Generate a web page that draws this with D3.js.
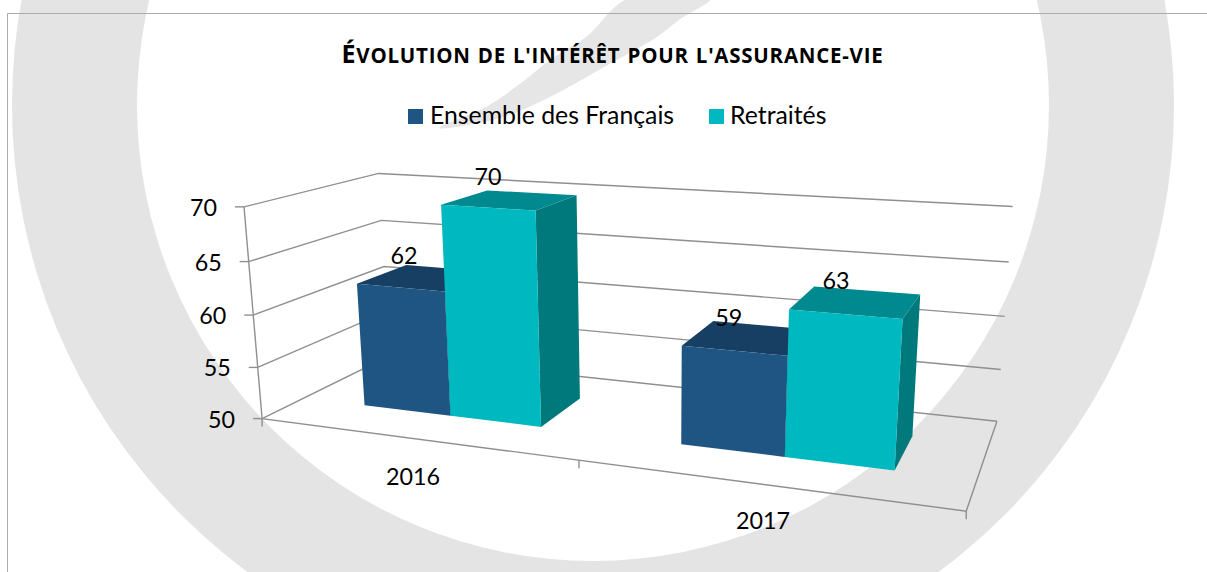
<!DOCTYPE html>
<html lang="fr"><head><meta charset="utf-8">
<script src="https://cdn.jsdelivr.net/npm/d3@7/dist/d3.min.js"></script>
<style>html,body{margin:0;padding:0;background:#fff;overflow:hidden}svg{display:block}text{font-family:Lato,"Open Sans",sans-serif;fill:#000}</style>
</head><body><svg id="c" width="1207" height="572"></svg>
<script>
const categories = ["2016", "2017"];
const seriesNames = ["Ensemble des Français", "Retraités"];
const seriesValues = [[62, 59], [70, 63]];
const yTicks = [50, 55, 60, 65, 70];
const titleInitial = "É";
const titleRest = "VOLUTION DE L'INTÉRÊT POUR L'ASSURANCE-VIE";
const seriesFront = ["#1F5582", "#00B8BF"];
const seriesTop = ["#173F63", "#008A8F"];
const seriesSide = ["#123452", "#00797D"];

// camera calibration of the 3D box: [u, w, value, screenX, screenY]
const calibration = [
  [0,0,50,261,418],[0,0,55,258,367],[0,0,60,254,315],[0,0,65,249,261],[0,0,70,244,207],
  [0,1,70,378,173],[0,1,65,382,221],[0,1,60,383,267],[0,1,50,390,356],
  [1,1,70,1013,207],[1,1,65,1009,262],[1,1,60,1004,316],[1,1,55,1001,369],[1,1,50,997,421],
  [1,0,50,966,511],[0.5,0,50,579,462]
];
const uScale = d3.scaleLinear().domain([0,1]).range([0,1]);
const vScale = d3.scaleLinear().domain([50,70]).range([0,1]);
const band = d3.scaleBand().domain(categories).range([0.001,1.002]).paddingInner(0.42).paddingOuter(0.21);
const inner = d3.scaleBand().domain(seriesNames).range([0,band.bandwidth()]);
const barDepth = [0.30, 0.70];

function solve(A,b){
  const n=b.length,M=A.map((r,i)=>[...r,b[i]]);
  for(let i=0;i<n;i++){
    let p=i;for(let r=i+1;r<n;r++)if(Math.abs(M[r][i])>Math.abs(M[p][i]))p=r;
    [M[i],M[p]]=[M[p],M[i]];
    for(let r=0;r<n;r++){if(r===i)continue;const f=M[r][i]/M[i][i];for(let c=i;c<=n;c++)M[r][c]-=f*M[i][c];}
  }
  return M.map((r,i)=>r[n]/r[i]);
}
const rows=[],rhs=[];
calibration.forEach(([u,w,v,x,y])=>{
  const t=vScale(v);
  rows.push([u,w,t,1,0,0,0,0,-x*u,-x*w,-x*t]);rhs.push(x);
  rows.push([0,0,0,0,u,w,t,1,-y*u,-y*w,-y*t]);rhs.push(y);
});
const AtA=d3.range(11).map(i=>d3.range(11).map(j=>d3.sum(rows,r=>r[i]*r[j])));
const Atb=d3.range(11).map(i=>d3.sum(rows,(r,k)=>r[i]*rhs[k]));
const m=solve(AtA,Atb);
function P(u,w,v){
  const t=vScale(v),d=m[8]*u+m[9]*w+m[10]*t+1;
  return [(m[0]*u+m[1]*w+m[2]*t+m[3])/d,(m[4]*u+m[5]*w+m[6]*t+m[7])/d];
}
const svg=d3.select("#c");
const line=d3.line();
const GREY="#8f8f8f";
const LABEL="23.3px", LEGEND="24.8px";

// watermark
const g0=svg.append("g");
const ring=d3.arc().innerRadius(456).outerRadius(581).startAngle(0).endAngle(2*Math.PI);
g0.append("path").attr("d",ring()).attr("transform","translate(593,105)").attr("fill","#e4e4e4");
const swooshEdge=[[629,-2],[586,37],[550,60],[521,83],[486,107],[439,128],[500,118],[550,97],[604,67],[657,37],[679,20],[711,-2]];
g0.append("path").attr("class","swoosh").attr("fill","#e6e6e6").attr("stroke","none")
  .attr("d",d3.line().curve(d3.curveCatmullRomClosed.alpha(0.5))(swooshEdge));
// chart frame
g0.append("path").attr("d","M7.5,572V13.5H1207").attr("fill","none").attr("stroke","#ababab").attr("stroke-width",1);

// title & legend
const title=svg.append("text").attr("x",612.5).attr("y",63).attr("text-anchor","middle")
  .style("font-family","'Open Sans',sans-serif").style("font-weight","700").style("letter-spacing","0.75px").style("word-spacing","1px");
title.append("tspan").style("font-size","25px").text(titleInitial);
title.append("tspan").style("font-size","20.5px").text(titleRest);
const legendX=[408,709], legendTextX=[430,730];
seriesNames.forEach((s,i)=>{
  svg.append("rect").attr("x",legendX[i]).attr("y",109).attr("width",15).attr("height",15).attr("fill",seriesFront[i]);
  svg.append("text").attr("x",legendTextX[i]).attr("y",124).style("font-size",LEGEND).text(s);
});

// walls and floor
const gridG=svg.append("g").attr("fill","none").attr("stroke",GREY).attr("stroke-width",1.4);
yTicks.forEach(v=>{
  gridG.append("path").attr("d",line([P(0,0,v),P(0,1,v),P(1,1,v)]));
  const f=P(0,0,v);
  gridG.append("path").attr("d",line([[f[0]-9,f[1]],f]));
  svg.append("text").attr("x",f[0]-27).attr("y",f[1]+9).attr("text-anchor","end").style("font-size",LABEL).text(v);
});
gridG.append("path").attr("d",line([P(0,0,70),P(0,0,50),P(1,0,50),P(1,1,50)]));
[0,0.5,1].forEach(u=>{const p=P(u,0,50);gridG.append("path").attr("d",line([p,[p[0],p[1]+8]]));});

// bars
const poly=(pts,fill)=>svg.append("path").attr("d",line(pts)+"Z").attr("fill",fill);
const labels=[];
categories.forEach((c,ci)=>{
  seriesNames.forEach((s,si)=>{
    const v=seriesValues[si][ci],u0=uScale(band(c)+inner(s)),u1=u0+inner.bandwidth(),[w0,w1]=barDepth;
    poly([P(u1,w0,50),P(u1,w1,50),P(u1,w1,v),P(u1,w0,v)],seriesSide[si]);
    poly([P(u0,w0,v),P(u1,w0,v),P(u1,w1,v),P(u0,w1,v)],seriesTop[si]);
    poly([P(u0,w0,50),P(u1,w0,50),P(u1,w0,v),P(u0,w0,v)],seriesFront[si]);
    labels.push({v,p:P(u0,w0,v)});
  });
});
labels.forEach(d=>svg.append("text").attr("x",d.p[0]+47).attr("y",d.p[1]-20).attr("text-anchor","middle").style("font-size",LABEL).text(d.v));

// category labels
const catAnchor=[[413,485],[763,529]];
categories.forEach((c,i)=>svg.append("text").attr("x",catAnchor[i][0]).attr("y",catAnchor[i][1]).attr("text-anchor","middle").style("font-size",LABEL).text(c));
</script></body></html>
